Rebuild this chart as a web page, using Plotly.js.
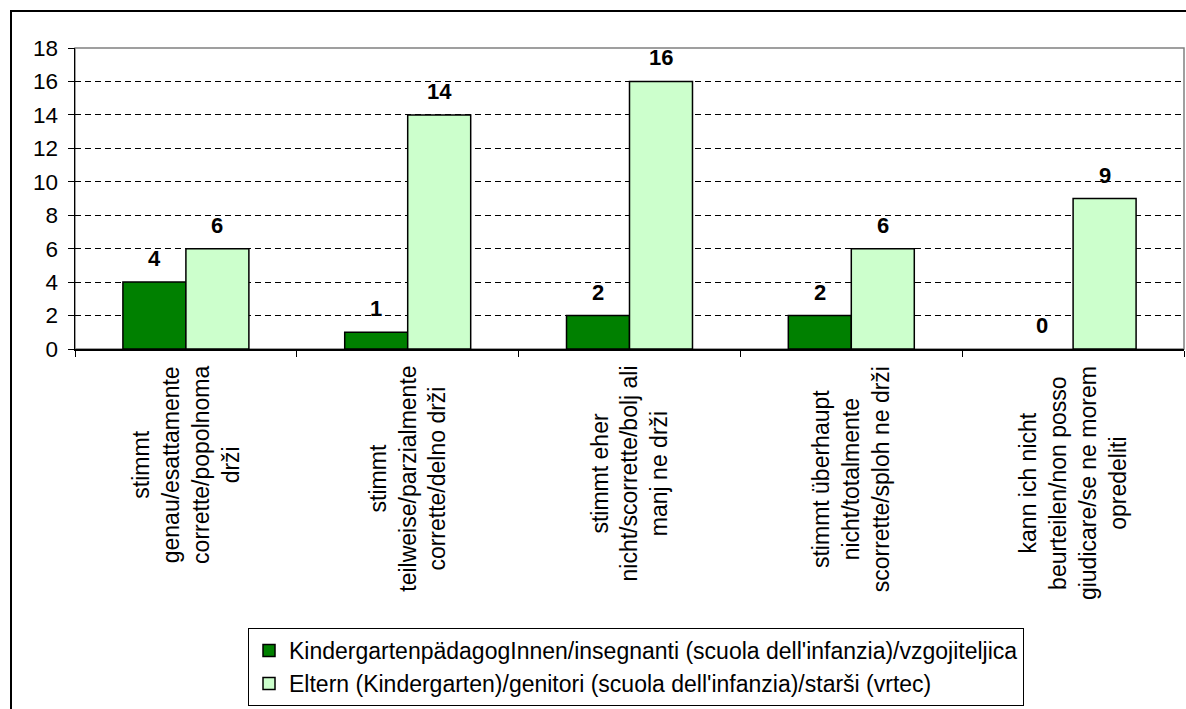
<!DOCTYPE html>
<html>
<head>
<meta charset="utf-8">
<script src="https://cdn.plot.ly/plotly-3.0.1.min.js"></script>
<style>
html,body{margin:0;padding:0;background:#fff;}
#wrap{position:relative;width:1186px;height:709px;overflow:hidden;}
#chart{position:absolute;left:0;top:0;width:1186px;height:709px;}
#frame{position:absolute;left:10px;top:10px;width:1200px;height:720px;border-left:2px solid #000;border-top:2px solid #000;pointer-events:none;}
</style>
</head>
<body>
<div id="wrap"><div id="chart"></div><div id="frame"></div></div>
<script>
// ---- data ----
const categories = [
  "stimmt<br>genau/esattamente<br>corrette/popolnoma<br>drži",
  "stimmt<br>teilweise/parzialmente<br>corrette/delno drži",
  "stimmt eher<br>nicht/scorrette/bolj ali<br>manj ne drži",
  "stimmt überhaupt<br>nicht/totalmente<br>scorrette/sploh ne drži",
  "kann ich nicht<br>beurteilen/non posso<br>giudicare/se ne morem<br>opredeliti"
];
const seriesNames = [
  "KindergartenpädagogInnen/insegnanti (scuola dell'infanzia)/vzgojiteljica",
  "Eltern (Kindergarten)/genitori (scuola dell'infanzia)/starši (vrtec)"
];
const teachers = [4, 1, 2, 2, 0];
const parents = [6, 14, 16, 6, 9];
const yTicks = [0, 2, 4, 6, 8, 10, 12, 14, 16, 18];

// ---- style ----
const FONT = "Liberation Sans, Arial, sans-serif";
const FS = 23;
const BARGAP = 0.432;
const catIdx = categories.map((_, i) => i);
const outline = v => v.map(val => (val === 0 ? 0 : 1.5));

const traces = [
  {type: "bar", x: catIdx, y: teachers, name: seriesNames[0],
   marker: {color: "#008000", line: {color: "#000", width: outline(teachers)}}, hoverinfo: "y"},
  {type: "bar", x: catIdx, y: parents, name: seriesNames[1],
   marker: {color: "#CCFFCC", line: {color: "#000", width: outline(parents)}}, hoverinfo: "y"}
];

const off = (1 - BARGAP) / 4;
const annotations = [];
[teachers, parents].forEach((vals, s) => {
  vals.forEach((v, i) => {
    annotations.push({x: i + (s === 0 ? -off : off), y: v, xref: "x", yref: "y",
      text: "<b>" + v + "</b>", showarrow: false, yanchor: "bottom", yshift: 9,
      font: {family: FONT, size: 22, color: "#000"}});
  });
});
categories.forEach((c, i) => {
  annotations.push({x: i, y: 0, xref: "x", yref: "paper", text: c, showarrow: false,
    textangle: -90, yanchor: "top", yshift: -15, align: "center",
    font: {family: FONT, size: FS, color: "#000"}});
});

const layout = {
  width: 1186, height: 709,
  margin: {l: 75, r: 2, t: 48, b: 360, pad: 0},
  paper_bgcolor: "rgba(0,0,0,0)", plot_bgcolor: "#fff",
  font: {family: FONT, size: FS, color: "#000"},
  barmode: "group", bargap: BARGAP, bargroupgap: 0,
  showlegend: true,
  legend: {x: 0.156, y: -0.927, xanchor: "left", yanchor: "top",
    bgcolor: "#fff", bordercolor: "#000", borderwidth: 1, itemwidth: 30,
    font: {family: FONT, size: FS, color: "#000"}, traceorder: "normal"},
  xaxis: {type: "linear", range: [-0.5, 4.5], tickvals: [-0.5, 0.5, 1.5, 2.5, 3.5, 4.5],
    showticklabels: false, ticks: "outside", ticklen: 6, tickcolor: "#000",
    showline: true, linecolor: "#000", linewidth: 1.5, showgrid: false, zeroline: false, fixedrange: true},
  yaxis: {range: [0, 18], tickvals: yTicks, ticktext: yTicks.map(String),
    ticks: "outside", ticklen: 6, tickcolor: "#000", ticklabelstandoff: 5,
    showline: true, linecolor: "#000", linewidth: 1.5,
    showgrid: true, gridcolor: "#000", gridwidth: 1, griddash: "6px,4px",
    zeroline: false, tickfont: {family: FONT, size: 22.5, color: "#000"}, fixedrange: true},
  shapes: [{type: "rect", xref: "paper", yref: "paper", x0: 0, x1: 1, y0: 0, y1: 1,
    line: {color: "#808080", width: 1.5}, fillcolor: "rgba(0,0,0,0)", layer: "below"}],
  annotations: annotations
};

Plotly.newPlot("chart", traces, layout, {displayModeBar: false, staticPlot: true});
</script>
</body>
</html>
